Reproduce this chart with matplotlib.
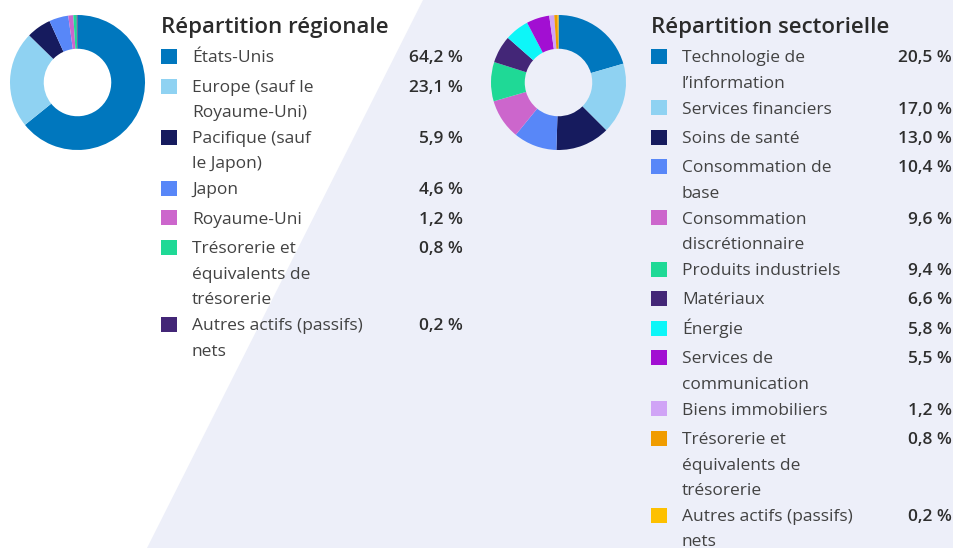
import matplotlib
matplotlib.use("Agg")
import matplotlib.pyplot as plt
from matplotlib.patches import Polygon

plt.rcParams['font.family'] = ['Open Sans', 'DejaVu Sans']

# Données
region_titre = "Répartition régionale"
region_labels = ["États-Unis", "Europe (sauf le\nRoyaume-Uni)", "Pacifique (sauf\nle Japon)",
                 "Japon", "Royaume-Uni", "Trésorerie et\néquivalents de\ntrésorerie",
                 "Autres actifs (passifs)\nnets"]
region_values = [64.2, 23.1, 5.9, 4.6, 1.2, 0.8, 0.2]
region_colors = ["#0077be", "#8fd2f2", "#161b5e", "#5887f8", "#cc66cc", "#1fd996", "#432677"]

secteur_titre = "Répartition sectorielle"
secteur_labels = ["Technologie de\nl’information", "Services financiers", "Soins de santé",
                  "Consommation de\nbase", "Consommation\ndiscrétionnaire", "Produits industriels",
                  "Matériaux", "Énergie", "Services de\ncommunication", "Biens immobiliers",
                  "Trésorerie et\néquivalents de\ntrésorerie", "Autres actifs (passifs)\nnets"]
secteur_values = [20.5, 17.0, 13.0, 10.4, 9.6, 9.4, 6.6, 5.8, 5.5, 1.2, 0.8, 0.2]
secteur_colors = ["#0077be", "#8fd2f2", "#161b5e", "#5887f8", "#cc66cc", "#1fd996",
                  "#432677", "#0df6f8", "#a20fd2", "#d0a4f6", "#f09c00", "#fdc000"]

W, H = 954, 548
fig = plt.figure(figsize=(W / 100, H / 100), dpi=100)
fig.patch.set_facecolor("white")

# axe de fond en pixels
bg = fig.add_axes([0, 0, 1, 1])
bg.set_xlim(0, W)
bg.set_ylim(H, 0)
bg.axis("off")
bg.add_patch(Polygon([[423, 0], [W, 0], [W, H], [147, H]], closed=True,
                     facecolor="#edeff9", edgecolor="none"))


def donut(cx, cy, r, values, colors):
    ax = fig.add_axes([(cx - r) / W, 1 - (cy + r) / H, 2 * r / W, 2 * r / H])
    ax.pie(values, colors=colors, startangle=90, counterclock=False, radius=1,
           wedgeprops=dict(width=0.5, linewidth=0))
    ax.set_xlim(-1, 1)
    ax.set_ylim(-1, 1)
    ax.set_aspect("equal")
    ax.axis("off")


def legende(x0, xval, titre, labels, values, colors):
    bg.text(x0 + 1, 33.5, titre, fontsize=16, color="#2b2b2b", va="baseline", ha="left",
            fontweight="semibold")
    y = 56.5
    for lab, v, c in zip(labels, values, colors):
        lignes = lab.split("\n")
        bg.add_patch(plt.Rectangle((x0 + 1, y - 7.5), 16, 15, facecolor=c, edgecolor="none"))
        for i, l in enumerate(lignes):
            bg.text(x0 + 32, y + 5.8 + i * 25.5, l, fontsize=12.5, color="#424242",
                    va="baseline", ha="left")
        bg.text(xval, y + 5.8, f"{v:.1f} %".replace(".", ","), fontsize=12.5, color="#2e2e2e",
                va="baseline", ha="right", fontweight="semibold")
        y += 29.5 if len(lignes) == 1 else 25.6 * len(lignes)


donut(77.5, 82.5, 67.5, region_values, region_colors)
donut(558.5, 82.5, 67.5, secteur_values, secteur_colors)
legende(160, 463, region_titre, region_labels, region_values, region_colors)
legende(650, 952, secteur_titre, secteur_labels, secteur_values, secteur_colors)

fig.savefig("out.png", dpi=100)
